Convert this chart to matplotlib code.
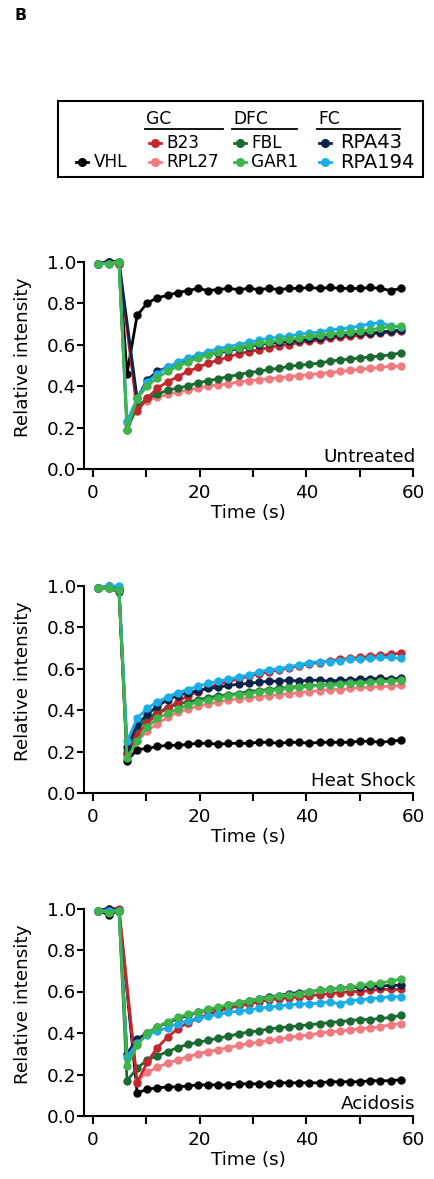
import matplotlib
matplotlib.use("Agg")
import matplotlib.pyplot as plt
from matplotlib.lines import Line2D
from matplotlib.patches import Rectangle

plt.rcParams['font.family'] = ['DejaVu Sans']

W, H = 434, 1179

# Sampling times (s): three pre-bleach frames, then post-bleach recovery frames
time_s = [1.0, 3.0, 4.9,
          6.4, 8.3, 10.2, 12.1, 14.0, 15.9, 17.8, 19.7, 21.6, 23.5, 25.4, 27.3, 29.2, 31.1,
          33.0, 34.9, 36.8, 38.7, 40.6, 42.5, 44.4, 46.3, 48.2, 50.1, 52.0, 53.9, 55.8, 57.7]

proteins = ['VHL', 'B23', 'RPL27', 'FBL', 'GAR1', 'RPA43', 'RPA194']
colors = {'VHL': '#000000', 'B23': '#c1272d', 'RPL27': '#f27a7e', 'FBL': '#1b6a32',
          'GAR1': '#3db54a', 'RPA43': '#0b2249', 'RPA194': '#1aaee6'}
draw_order = ['VHL', 'RPL27', 'FBL', 'B23', 'RPA43', 'RPA194', 'GAR1']
conditions = ['Untreated', 'Heat Shock', 'Acidosis']

# None marks a frame that was not sampled for that series
# ---- Untreated ----
untreated_vhl = [0.99, 1.00, 1.00,
                 0.46, 0.74, 0.80, 0.825, 0.837, 0.85, 0.86, 0.87, 0.86, 0.865, 0.87, 0.865, 0.87, 0.865,
                 0.87, 0.865, 0.87, 0.87, 0.875, 0.87, 0.875, 0.87, 0.87, 0.87, 0.875, 0.87, 0.86, 0.87]
untreated_b23 = [0.99, 1.00, 0.99,
                 None, 0.28, 0.34, 0.39, 0.42, 0.445, 0.47, 0.49, 0.51, 0.525, 0.54, 0.555, 0.565, 0.575,
                 0.585, 0.595, 0.60, 0.61, 0.615, 0.62, 0.63, 0.635, 0.64, 0.645, 0.65, 0.655, 0.66, 0.665]
untreated_rpl27 = [0.99, 0.99, 0.99,
                   0.22, 0.30, 0.33, 0.345, 0.36, 0.37, 0.38, 0.39, 0.40, 0.405, 0.41, 0.42, 0.425, 0.43,
                   0.435, 0.44, 0.445, 0.45, 0.455, 0.46, 0.465, 0.47, 0.475, 0.48, 0.485, 0.49, 0.495, 0.495]
untreated_fbl = [0.99, 1.00, 0.99,
                 0.19, 0.30, 0.34, 0.36, 0.38, 0.39, 0.40, 0.415, 0.425, 0.435, 0.445, 0.455, 0.465, 0.47,
                 0.48, 0.485, 0.495, 0.50, 0.505, 0.51, 0.52, 0.525, 0.53, 0.535, 0.54, 0.545, 0.55, 0.56]
untreated_gar1 = [0.99, 0.99, 1.00,
                  0.19, 0.34, 0.40, 0.44, 0.47, 0.495, 0.515, 0.535, 0.55, 0.565, 0.575, 0.585, 0.595, 0.605,
                  0.61, 0.62, 0.625, 0.63, 0.64, 0.645, 0.65, 0.655, 0.66, 0.665, 0.67, 0.68, 0.685, 0.69]
untreated_rpa43 = [0.99, 1.00, 1.00,
                   None, 0.34, 0.43, 0.47, 0.49, 0.51, 0.53, 0.545, 0.555, 0.56, 0.57, 0.58, 0.59, 0.60,
                   0.605, 0.61, 0.615, 0.62, 0.625, 0.63, 0.64, 0.645, 0.65, 0.655, 0.655, 0.66, 0.665, 0.67]
untreated_rpa194 = [0.99, 0.99, 1.00,
                    0.23, 0.34, 0.42, 0.46, 0.49, 0.515, 0.535, 0.55, 0.565, 0.58, 0.59, 0.60, 0.61, 0.62,
                    0.63, 0.635, 0.64, 0.65, 0.655, 0.66, 0.67, 0.675, 0.68, 0.69, 0.70, 0.705, 0.69, 0.685]

# ---- Heat Shock ----
heat_vhl = [0.99, 0.99, 0.98,
            0.155, 0.21, 0.215, 0.225, 0.23, 0.23, 0.235, 0.24, 0.24, 0.235, 0.24, 0.24, 0.24, 0.245,
            0.245, 0.24, 0.245, 0.245, 0.24, 0.245, 0.245, 0.245, 0.245, 0.25, 0.25, 0.245, 0.25, 0.255]
heat_b23 = [0.99, 1.00, 0.99,
            0.19, 0.28, 0.34, 0.38, 0.41, 0.44, 0.47, 0.49, 0.51, 0.525, 0.54, 0.55, 0.565, 0.575,
            0.585, 0.595, 0.605, 0.615, 0.625, 0.63, 0.64, 0.645, 0.65, 0.655, 0.66, 0.665, 0.67, 0.675]
heat_rpl27 = [0.99, 0.99, 0.99,
              0.19, 0.25, 0.30, 0.335, 0.365, 0.39, 0.405, 0.42, 0.43, 0.44, 0.45, 0.455, 0.46, 0.465,
              0.47, 0.475, 0.48, 0.485, 0.49, 0.495, 0.50, 0.50, 0.505, 0.51, 0.51, 0.515, 0.515, 0.52]
heat_fbl = [0.99, 0.99, 0.97,
            0.20, 0.31, 0.36, 0.39, 0.41, 0.43, 0.44, 0.45, 0.46, 0.47, 0.475, 0.48, 0.49, 0.495,
            0.50, 0.505, 0.51, 0.515, 0.52, 0.52, 0.525, 0.53, 0.53, 0.535, 0.54, 0.54, 0.545, 0.545]
heat_gar1 = [0.99, 0.99, 0.98,
             0.17, 0.25, 0.32, 0.36, 0.385, 0.405, 0.425, 0.44, 0.45, 0.46, 0.47, 0.475, 0.48, 0.49,
             0.495, 0.50, 0.505, 0.51, 0.515, 0.52, 0.52, 0.525, 0.53, 0.53, 0.535, 0.54, 0.54, 0.545]
heat_rpa43 = [0.99, 1.00, 0.98,
              0.22, 0.33, 0.38, 0.42, 0.45, 0.47, 0.485, 0.495, 0.505, 0.51, 0.52, 0.525, 0.53, 0.535,
              0.54, 0.54, 0.545, 0.54, 0.545, 0.545, 0.54, 0.545, 0.545, 0.55, 0.55, 0.555, 0.55, 0.555]
heat_rpa194 = [0.99, 1.00, 1.00,
               0.25, 0.36, 0.41, 0.44, 0.465, 0.485, 0.50, 0.515, 0.53, 0.54, 0.55, 0.56, 0.57, 0.585,
               0.595, 0.60, 0.61, 0.62, 0.63, 0.635, 0.635, 0.64, 0.645, 0.645, 0.65, 0.655, 0.655, 0.65]

# ---- Acidosis ----
acid_vhl = [0.99, 0.97, 0.99,
            None, 0.11, 0.13, 0.135, 0.14, 0.14, 0.145, 0.15, 0.15, 0.15, 0.15, 0.155, 0.155, 0.155,
            0.155, 0.16, 0.16, 0.16, 0.16, 0.16, 0.165, 0.165, 0.165, 0.165, 0.17, 0.17, 0.17, 0.175]
acid_b23 = [0.99, 1.00, 1.00,
            None, 0.16, 0.26, 0.33, 0.38, 0.42, 0.45, 0.47, 0.49, 0.505, 0.52, 0.53, 0.54, 0.55,
            0.56, 0.565, 0.57, 0.575, 0.58, 0.585, 0.59, 0.595, 0.60, 0.60, 0.605, 0.61, 0.61, 0.61]
acid_rpl27 = [0.99, 0.99, 0.99,
              None, 0.17, 0.21, 0.235, 0.255, 0.27, 0.285, 0.30, 0.31, 0.32, 0.33, 0.34, 0.35, 0.355,
              0.365, 0.37, 0.38, 0.385, 0.39, 0.40, 0.405, 0.41, 0.415, 0.42, 0.425, 0.43, 0.44, 0.445]
acid_fbl = [0.99, 0.99, 0.99,
            0.17, 0.23, 0.27, 0.29, 0.31, 0.33, 0.345, 0.355, 0.365, 0.375, 0.385, 0.395, 0.405, 0.41,
            0.42, 0.425, 0.43, 0.435, 0.44, 0.445, 0.45, 0.455, 0.46, 0.465, 0.465, 0.47, 0.475, 0.485]
acid_gar1 = [0.99, 0.98, 0.99,
             0.24, 0.34, 0.40, 0.43, 0.455, 0.475, 0.49, 0.50, 0.515, 0.525, 0.535, 0.545, 0.555, 0.565,
             0.57, 0.58, 0.585, 0.59, 0.60, 0.605, 0.61, 0.615, 0.62, 0.63, 0.635, 0.64, 0.65, 0.66]
acid_rpa43 = [0.99, 1.00, 0.99,
              0.30, 0.37, 0.40, 0.43, 0.45, 0.47, 0.485, 0.50, 0.51, 0.52, 0.535, 0.545, 0.555, 0.565,
              0.575, 0.58, 0.59, 0.595, 0.60, 0.605, 0.61, 0.615, 0.62, 0.62, 0.625, 0.625, 0.63, 0.63]
acid_rpa194 = [0.99, 0.99, 0.99,
               0.285, 0.35, 0.39, 0.41, 0.425, 0.445, 0.46, 0.47, 0.48, 0.49, 0.50, 0.505, 0.51, 0.52,
               0.525, 0.53, 0.535, 0.54, 0.54, 0.545, 0.55, 0.54, 0.555, 0.56, 0.565, 0.57, 0.575, 0.575]

data = {
    'Untreated': dict(VHL=untreated_vhl, B23=untreated_b23, RPL27=untreated_rpl27, FBL=untreated_fbl,
                      GAR1=untreated_gar1, RPA43=untreated_rpa43, RPA194=untreated_rpa194),
    'Heat Shock': dict(VHL=heat_vhl, B23=heat_b23, RPL27=heat_rpl27, FBL=heat_fbl,
                       GAR1=heat_gar1, RPA43=heat_rpa43, RPA194=heat_rpa194),
    'Acidosis': dict(VHL=acid_vhl, B23=acid_b23, RPL27=acid_rpl27, FBL=acid_fbl,
                     GAR1=acid_gar1, RPA43=acid_rpa43, RPA194=acid_rpa194),
}

x_ticks = [0, 10, 20, 30, 40, 50, 60]
x_ticklabels = ['0', '', '20', '', '40', '', '60']
y_ticks = [0.0, 0.2, 0.4, 0.6, 0.8, 1.0]
y_ticklabels = ['0.0', '0.2', '0.4', '0.6', '0.8', '1.0']

FS = 13.2

fig = plt.figure(figsize=(W / 100, H / 100), dpi=100)


def fx(px):
    return px / W


def fy(py):
    return 1 - py / H


# panel extents in pixels: (top of y=1.0, y=0 baseline)
panel_px = [(261.5, 469.0), (586.0, 793.0), (908.5, 1116.0)]
left_px, right_px = 84.3, 413.0

for cond, (top, bot) in zip(conditions, panel_px):
    ax = fig.add_axes([fx(left_px), fy(bot), fx(right_px - left_px), (bot - top) / H])
    for p in draw_order:
        pts = [(t, v) for t, v in zip(time_s, data[cond][p]) if v is not None]
        xs = [t for t, _ in pts]
        ys = [v for _, v in pts]
        ax.plot(xs, ys, color=colors[p], lw=2.0, marker='o', ms=5.0,
                mec=colors[p], mfc=colors[p], clip_on=False, zorder=3)
    ax.set_xlim(-1.6, 60)
    ax.set_ylim(0, 1.0)
    for s in ['top', 'right']:
        ax.spines[s].set_visible(False)
    for s in ['left', 'bottom']:
        ax.spines[s].set_linewidth(1.5)
    ax.set_xticks(x_ticks)
    ax.set_xticklabels(x_ticklabels)
    ax.set_yticks(y_ticks)
    ax.set_yticklabels(y_ticklabels)
    ax.tick_params(axis='both', labelsize=FS, width=1.5, color='black')
    ax.tick_params(axis='x', length=6, pad=4.5)
    ax.tick_params(axis='y', length=5, pad=1)
    ax.set_xlabel('Time (s)', fontsize=FS, labelpad=0)
    ax.set_ylabel('Relative intensity', fontsize=FS)
    ax.yaxis.set_label_coords(-0.158, 0.54)
    ax.xaxis.set_label_coords(0.5, -0.168)
    ax.text(60.4, 0.06, cond, ha='right', va='center', fontsize=FS)

# panel letter
fig.text(fx(15), fy(15), 'B', fontsize=11.3, fontweight='bold', ha='left', va='center')

# grouped legend box
fig.add_artist(Rectangle((fx(58), fy(177)), fx(423 - 58), (177 - 101) / H,
                         fill=False, lw=1.5, ec='black', transform=fig.transFigure))

groups = [('GC', 145, 223), ('DFC', 232, 297), ('FC', 317, 400)]
for name, x0, x1 in groups:
    fig.text(fx(x0 + 1), fy(119), name, fontsize=12.3, ha='left', va='center')
    fig.add_artist(Line2D([fx(x0), fx(x1)], [fy(128.5), fy(128.5)], color='black', lw=1.3,
                          transform=fig.transFigure))

legend_items = [
    ('VHL', 82, 162, 94, 12.2),
    ('B23', 155, 143, 166, 12.2),
    ('RPL27', 155, 162, 166, 12.2),
    ('FBL', 240, 143, 251, 12.2),
    ('GAR1', 240, 162, 251, 12.2),
    ('RPA43', 325, 143, 340, 14),
    ('RPA194', 325, 162, 340, 14),
]
for name, mx, my, tx, fs in legend_items:
    fig.add_artist(Line2D([fx(mx - 6), fx(mx + 6)], [fy(my), fy(my)], color=colors[name], lw=2.0,
                          transform=fig.transFigure))
    fig.add_artist(Line2D([fx(mx)], [fy(my)], color=colors[name], marker='o', ms=5.5,
                          ls='none', transform=fig.transFigure))
    fig.text(fx(tx), fy(my), name, fontsize=fs, ha='left', va='center')

fig.savefig('out.png', dpi=100)
